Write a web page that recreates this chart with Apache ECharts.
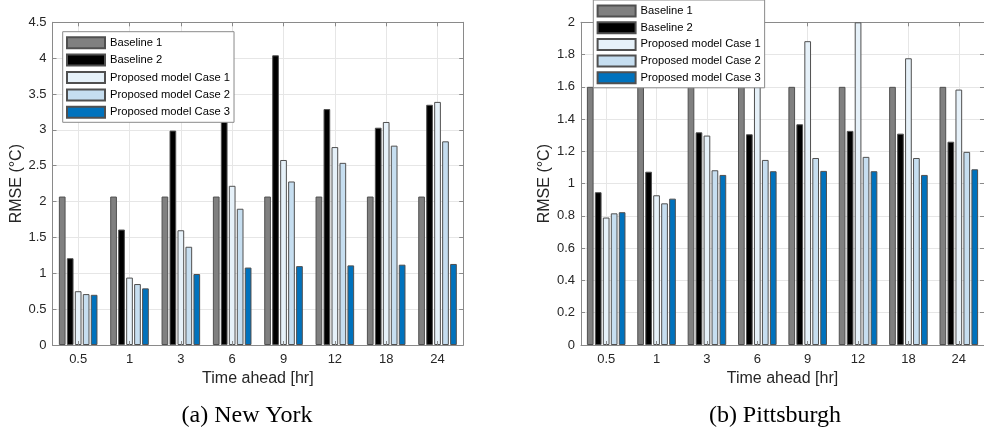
<!DOCTYPE html>
<html>
<head>
<meta charset="utf-8">
<script src="https://cdn.jsdelivr.net/npm/echarts@6/dist/echarts.min.js"></script>
<style>html,body{margin:0;padding:0;background:#fff;}#c{width:984px;height:432px;}</style>
</head>
<body>
<div id="c"></div>
<script>
// ---- data ----
var categories = ['0.5', '1', '3', '6', '9', '12', '18', '24'];
var seriesNames = ['Baseline 1', 'Baseline 2', 'Proposed model Case 1', 'Proposed model Case 2', 'Proposed model Case 3'];

// (a) New York
var nyBaseline1 = [2.07, 2.07, 2.07, 2.07, 2.07, 2.07, 2.07, 2.07];
var nyBaseline2 = [1.21, 1.61, 2.99, 3.45, 4.04, 3.29, 3.03, 3.35];
var nyCase1 = [0.75, 0.94, 1.60, 2.22, 2.58, 2.76, 3.11, 3.39];
var nyCase2 = [0.71, 0.85, 1.37, 1.90, 2.28, 2.54, 2.78, 2.84];
var nyCase3 = [0.70, 0.79, 0.99, 1.08, 1.10, 1.11, 1.12, 1.13];

// (b) Pittsburgh
var pitBaseline1 = [1.6, 1.6, 1.6, 1.6, 1.6, 1.6, 1.6, 1.6];
var pitBaseline2 = [0.947, 1.074, 1.318, 1.306, 1.368, 1.327, 1.31, 1.26];
var pitCase1 = [0.79, 0.928, 1.298, 1.632, 1.883, 2.0, 1.777, 1.583];
var pitCase2 = [0.816, 0.878, 1.083, 1.147, 1.159, 1.166, 1.159, 1.197];
var pitCase3 = [0.823, 0.907, 1.054, 1.077, 1.079, 1.077, 1.054, 1.089];

var captions = ['(a) New York', '(b) Pittsburgh'];
var yAxisName = 'RMSE (°C)';
var xAxisName = 'Time ahead [hr]';

// ---- styling ----
var colors = ['#808080', '#000000', '#e6f1f9', '#c6def0', '#0072bd'];
var edge = '#505050';
var axisColor = '#8a8a8a';
var gridColor = '#e6e6e6';
var textColor = '#262626';
var sans = 'Liberation Sans';

var grids = [
  {left: 52.5, top: 22.3, width: 410.7, height: 322.7},
  {left: 581, top: 22.3, width: 410, height: 322.7}
];

// per grid: 0 = bottom labels, 1 = top ticks, 2 = bottom ticks (above bars), 3 = hidden value axis for vertical grid lines
function xAxes(gi) {
  return [
    {
      gridIndex: gi, type: 'category', data: categories, position: 'bottom', z: 0,
      axisLine: {show: true, onZero: false, lineStyle: {color: axisColor, width: 1}},
      axisTick: {show: false},
      axisLabel: {show: true, margin: 8, color: textColor, fontFamily: sans, fontSize: 13},
      splitLine: {show: false},
      name: xAxisName, nameLocation: 'middle', nameGap: 26,
      nameTextStyle: {color: textColor, fontFamily: sans, fontSize: 16}
    },
    {
      gridIndex: gi, type: 'category', data: categories, position: 'top', z: 0,
      axisLine: {show: true, onZero: false, lineStyle: {color: axisColor, width: 1}},
      axisTick: {show: true, inside: true, alignWithLabel: true, length: 4, lineStyle: {color: axisColor}},
      axisLabel: {show: false}, splitLine: {show: false}
    },
    {
      gridIndex: gi, type: 'category', data: categories, position: 'bottom', z: 5,
      axisLine: {show: false, onZero: false},
      axisTick: {show: true, inside: true, alignWithLabel: true, length: 4, lineStyle: {color: axisColor}},
      axisLabel: {show: false}, splitLine: {show: false}
    },
    {
      gridIndex: gi, type: 'value', min: 0, max: categories.length, interval: 0.5, position: 'top', z: 0,
      axisLine: {show: false, onZero: false}, axisTick: {show: false}, axisLabel: {show: false},
      splitLine: {show: true, lineStyle: {color: ['rgba(0,0,0,0)', gridColor], width: 1}}
    }
  ];
}

function yAxes(gi, max, interval) {
  return [
    {
      gridIndex: gi, type: 'value', min: 0, max: max, interval: interval, position: 'left',
      axisLine: {show: true, onZero: false, lineStyle: {color: axisColor, width: 1}},
      axisTick: {show: true, inside: true, length: 4, lineStyle: {color: axisColor}},
      axisLabel: {show: true, margin: 6, color: textColor, fontFamily: sans, fontSize: 13},
      splitLine: {show: true, lineStyle: {color: gridColor, width: 1}},
      name: yAxisName, nameLocation: 'middle', nameGap: 25,
      nameTextStyle: {color: textColor, fontFamily: sans, fontSize: 16}
    },
    {
      gridIndex: gi, type: 'value', min: 0, max: max, interval: interval, position: 'right',
      axisLine: {show: true, onZero: false, lineStyle: {color: axisColor, width: 1}},
      axisTick: {show: true, inside: true, length: 4, lineStyle: {color: axisColor}},
      axisLabel: {show: false}, splitLine: {show: false}
    }
  ];
}

function barSeries(gi, arrays) {
  return arrays.map(function (arr, i) {
    return {
      name: seriesNames[i], type: 'bar', data: arr,
      xAxisIndex: gi * 4, yAxisIndex: gi * 2,
      barWidth: 6.7, barGap: '19%',
      itemStyle: {color: colors[i], borderColor: edge, borderWidth: 1},
      emphasis: {disabled: true}, animation: false
    };
  });
}

function legendFor(left, top, gap) {
  return {
    orient: 'vertical', left: left, top: top,
    data: seriesNames, icon: 'rect', itemWidth: 38, itemHeight: 11, itemGap: gap,
    padding: [4.5, 4, 3.5, 3.3],
    backgroundColor: '#ffffff', borderColor: '#8a8a8a', borderWidth: 1,
    selectedMode: false,
    textStyle: {color: '#000', fontFamily: sans, fontSize: 11.2, lineHeight: 11}
  };
}

var chart = echarts.init(document.getElementById('c'), null, {renderer: 'canvas'});
chart.setOption({
  animation: false,
  color: colors,
  grid: grids,
  xAxis: xAxes(0).concat(xAxes(1)),
  yAxis: yAxes(0, 4.5, 0.5).concat(yAxes(1, 2, 0.2)),
  legend: [legendFor(62.7, 31.7, 4.4), legendFor(593.3, 0, 3.7)],
  series: barSeries(0, [nyBaseline1, nyBaseline2, nyCase1, nyCase2, nyCase3])
    .concat(barSeries(1, [pitBaseline1, pitBaseline2, pitCase1, pitCase2, pitCase3])),
  graphic: [
    {type: 'text', x: 247, y: 416, style: {text: captions[0], fill: '#000', font: '24px "Liberation Serif"', align: 'center', verticalAlign: 'middle'}},
    {type: 'text', x: 775, y: 416, style: {text: captions[1], fill: '#000', font: '24px "Liberation Serif"', align: 'center', verticalAlign: 'middle'}}
  ]
});
</script>
</body>
</html>
